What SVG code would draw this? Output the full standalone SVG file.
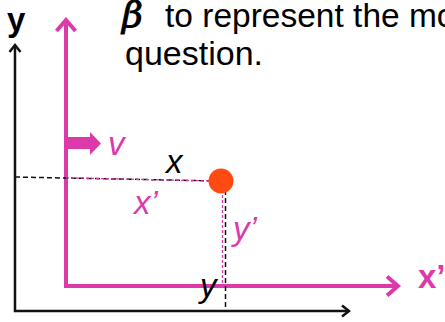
<svg xmlns="http://www.w3.org/2000/svg" width="445" height="322" viewBox="0 0 445 322">
<style>
.txt{font-family:"Liberation Sans",Arial,sans-serif;fill:#000}
.mag{fill:#dc3aab}
.it{font-style:italic}
.ax{fill:none;stroke-linecap:butt}
.blk{stroke:#111;stroke-width:2.5}
.pk{stroke:#dc3aab;stroke-width:4}
</style>
<defs>
<marker id="ahB" markerWidth="12" markerHeight="14" refX="10" refY="7" orient="auto-start-reverse" markerUnits="userSpaceOnUse">
<path d="M3,1.5 L10,7 L3,12.5" fill="none" stroke="#111" stroke-width="2.5"/>
</marker>
<marker id="ahP" markerWidth="16" markerHeight="24" refX="13" refY="12" orient="auto-start-reverse" markerUnits="userSpaceOnUse">
<path d="M2,2.5 L13,12 L2,21.5" fill="none" stroke="#dc3aab" stroke-width="4"/>
</marker>
</defs>
<g id="heading">
<text x="122" y="27" font-style="italic" font-size="36" stroke="#000" stroke-width="1" style="font-family:'DejaVu Serif',serif;fill:#000">β</text>
<text class="txt" x="165" y="27" font-size="33.5">to represent the mo</text>
<text class="txt" x="125" y="65" font-size="34">question.</text>
</g>
<g id="connectors">
<polyline id="frameS" class="ax blk" points="15,45 15,311 349,311" marker-start="url(#ahB)" marker-end="url(#ahB)"/>
<polyline id="frameSp" class="ax pk" points="66,20 66,286 398,286" marker-start="url(#ahP)" marker-end="url(#ahP)"/>
<line x1="15" y1="177" x2="218" y2="181" stroke="#111" stroke-width="1.5" stroke-dasharray="5,3"/>
<line x1="66" y1="177.8" x2="212" y2="181" stroke="#dc3aab" stroke-width="1.3" stroke-dasharray="3,2"/>
<line x1="222.5" y1="190" x2="222.5" y2="286" stroke="#dc3aab" stroke-width="1.3" stroke-dasharray="3,2"/>
<line x1="225.5" y1="190" x2="225.5" y2="311" stroke="#111" stroke-width="1.5" stroke-dasharray="5,3"/>
<polygon id="vArrow" points="66,137 90,137 90,132 101,143.5 90,155 90,149 66,149" fill="#dc3aab"/>
</g>
<g id="particle">
<circle cx="221" cy="181" r="12.5" fill="#ff4a12"/>
</g>
<g id="labels">
<text class="txt" x="7" y="31" font-size="33" font-weight="bold">y</text>
<text class="txt mag" x="418" y="288" font-size="33" font-weight="bold">x’</text>
<text class="txt mag it" x="108" y="155" font-size="33">v</text>
<text class="txt it" x="166" y="173" font-size="33">x</text>
<text class="txt mag it" x="134" y="214" font-size="33">x’</text>
<text class="txt mag it" x="233" y="240" font-size="33">y’</text>
<text class="txt it" x="200" y="297" font-size="33">y</text>
</g>
</svg>
